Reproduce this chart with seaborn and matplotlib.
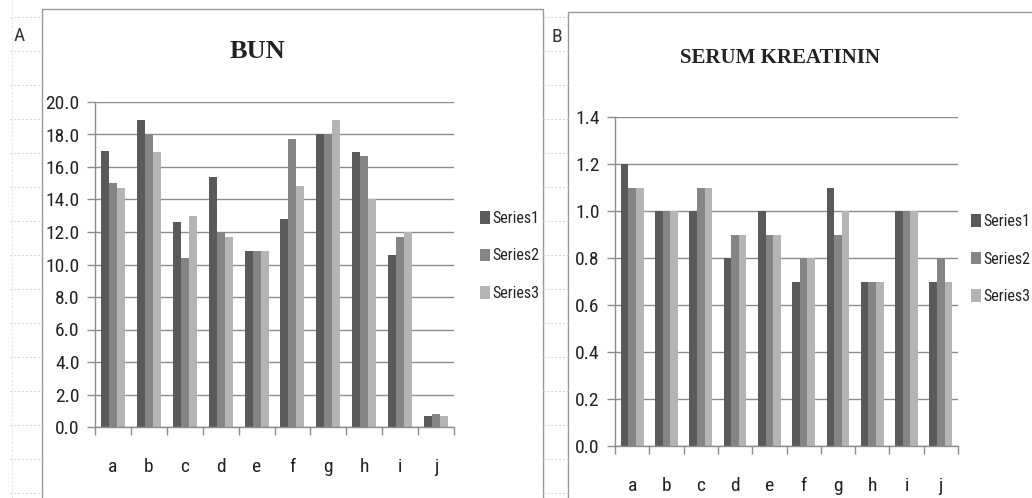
import numpy as np
import pandas as pd
import matplotlib
matplotlib.use("Agg")
import matplotlib.pyplot as plt
from matplotlib import font_manager
from matplotlib.patches import Rectangle
from matplotlib.lines import Line2D
import seaborn as sns

# ---- data ----
categories = ["a", "b", "c", "d", "e", "f", "g", "h", "i", "j"]
series_names = ["Series1", "Series2", "Series3"]

bun_s1 = [17.0, 18.9, 12.6, 15.4, 10.8, 12.8, 18.0, 16.9, 10.6, 0.7]
bun_s2 = [15.0, 18.0, 10.4, 12.0, 10.8, 17.7, 18.0, 16.7, 11.7, 0.8]
bun_s3 = [14.7, 16.9, 13.0, 11.7, 10.8, 14.8, 18.9, 14.0, 12.0, 0.7]

kre_s1 = [1.2, 1.0, 1.0, 0.8, 1.0, 0.7, 1.1, 0.7, 1.0, 0.7]
kre_s2 = [1.1, 1.0, 1.1, 0.9, 0.9, 0.8, 0.9, 0.7, 1.0, 0.8]
kre_s3 = [1.1, 1.0, 1.1, 0.9, 0.9, 0.8, 1.0, 0.7, 1.0, 0.7]

bun_ticks = [0, 2, 4, 6, 8, 10, 12, 14, 16, 18, 20]
kre_ticks = [0.0, 0.2, 0.4, 0.6, 0.8, 1.0, 1.2, 1.4]

colors = ["#5a5a5a", "#858585", "#b4b4b4"]


def long_frame(s1, s2, s3):
    rows = []
    for name, vals in zip(series_names, (s1, s2, s3)):
        for c, v in zip(categories, vals):
            rows.append({"cat": c, "val": v, "series": name})
    return pd.DataFrame(rows)


def pick_sans():
    fonts = font_manager.fontManager.ttflist
    names = {f.name for f in fonts}
    for c in ("Liberation Sans Narrow", "Roboto Condensed", "Open Sans Condensed"):
        if c in names:
            return c, "normal"
    for f in fonts:
        if f.name == "DejaVu Sans" and str(f.stretch) in ("condensed", "semi-condensed"):
            return "DejaVu Sans", "condensed"
    for c in ("Roboto", "Liberation Sans"):
        if c in names:
            return c, "normal"
    return "DejaVu Sans", "normal"


sns.set_theme(style="white")
sans, stretch = pick_sans()
plt.rcParams["font.family"] = [sans, "DejaVu Sans"]
plt.rcParams["font.stretch"] = stretch
serif = "Liberation Serif"

W, H = 1032, 498
fig = plt.figure(figsize=(W / 100, H / 100), dpi=100)
fig.patch.set_facecolor("white")


def fx(px):
    return px / W


def fy(py):
    return 1 - py / H


# faint worksheet cell lines in the margins
for y in range(17, H, 34):
    for x0, x1 in ((10, 42), (543, 568)):
        fig.add_artist(Line2D([fx(x0), fx(x1)], [fy(y), fy(y)], color="#d4d4d4",
                              lw=0.7, ls=(0, (2, 2)), transform=fig.transFigure))
fig.add_artist(Line2D([fx(12), fx(12)], [0, 1], color="#e2e2e2", lw=0.7,
                      ls=(0, (2, 2)), transform=fig.transFigure))

# chart frames
fig.add_artist(Rectangle((fx(42), fy(500)), fx(543) - fx(42), fy(9) - fy(500),
                         fill=False, ec="#9a9a9a", lw=1.0, transform=fig.transFigure))
fig.add_artist(Rectangle((fx(568), fy(500)), fx(1040) - fx(568), fy(12) - fy(500),
                         fill=False, ec="#9a9a9a", lw=1.0, transform=fig.transFigure))

fig.text(fx(19), fy(36), "A", fontsize=14, color="#333333", ha="center", va="center")
fig.text(fx(557), fy(37), "B", fontsize=14, color="#333333", ha="center", va="center")


def draw_panel(rect, df, ticks, fmt, title, title_size, title_xy, legend_xy, xlab_pad):
    ax = fig.add_axes(rect)
    sns.barplot(data=df, x="cat", y="val", hue="series", hue_order=series_names,
                order=categories, palette=colors, width=0.667, gap=0,
                saturation=1, edgecolor="none", linewidth=0, ax=ax, legend=True)
    ax.set_xlim(-0.5, len(categories) - 0.5)
    ax.set_ylim(ticks[0], ticks[-1])
    ax.set_yticks(ticks)
    ax.set_yticklabels([fmt.format(t) for t in ticks])
    ax.set_xlabel("")
    ax.set_ylabel("")
    ax.set_axisbelow(True)
    ax.yaxis.grid(True, color="#8c8c8c", lw=1.0)
    ax.xaxis.grid(False)
    for s in ("top", "right"):
        ax.spines[s].set_visible(False)
    for s in ("left", "bottom"):
        ax.spines[s].set_color("#8c8c8c")
        ax.spines[s].set_linewidth(1.0)
    ax.tick_params(axis="y", direction="out", length=6, width=1.0, color="#8c8c8c",
                   left=True, labelsize=14, labelcolor="#222222", pad=5)
    ax.set_xticks(np.arange(-0.5, len(categories)), minor=True)
    ax.tick_params(axis="x", which="minor", direction="out", length=6, width=1.0,
                   color="#8c8c8c", bottom=True)
    ax.tick_params(axis="x", which="major", length=0, labelsize=14,
                   labelcolor="#222222", pad=xlab_pad)
    handles, labels = ax.get_legend_handles_labels()
    ax.legend(handles, labels, loc="center left",
              bbox_to_anchor=(fx(legend_xy[0]), fy(legend_xy[1])),
              bbox_transform=fig.transFigure, frameon=False, fontsize=11.5,
              handlelength=0.6, handleheight=0.85, handletextpad=0.15,
              labelspacing=1.4, borderpad=0, labelcolor="#222222")
    fig.text(fx(title_xy[0]), fy(title_xy[1]), title, family=serif,
             fontweight="bold", fontsize=title_size, color="#222222",
             ha="center", va="center")
    return ax


draw_panel([fx(95), fy(427), fx(454) - fx(95), fy(102) - fy(427)],
           long_frame(bun_s1, bun_s2, bun_s3), bun_ticks, "{:.1f}", "BUN", 19,
           (258, 52), (472, 256), 22)

draw_panel([fx(615), fy(446), fx(958) - fx(615), fy(117) - fy(446)],
           long_frame(kre_s1, kre_s2, kre_s3), kre_ticks, "{:.1f}",
           "SERUM KREATININ", 15, (780, 58), (963, 259), 22)

fig.savefig("out.png", dpi=100, facecolor="white")
